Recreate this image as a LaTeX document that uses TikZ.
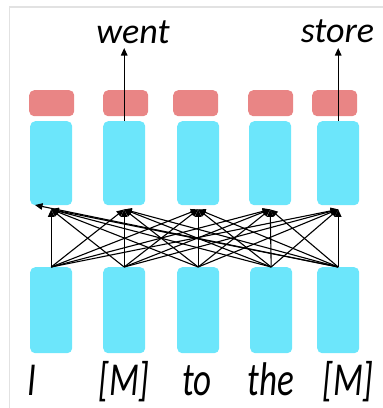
\documentclass[tikz,border=0pt]{standalone}
\usepackage{fontspec}
\setmainfont{Carlito}
\usetikzlibrary{arrows.meta}
\definecolor{cellblue}{HTML}{6CE6FB}
\definecolor{cellred}{HTML}{E98585}
\definecolor{framegray}{HTML}{E2E2E2}
\begin{document}
\begin{tikzpicture}[x=1pt,y=-1pt,
  cell/.style={fill=cellblue,rounded corners=5pt,inner sep=0pt,anchor=north west,
    minimum width=42pt},
  headcell/.style={fill=cellred,rounded corners=5pt,inner sep=0pt,anchor=north west,
    minimum width=45pt,minimum height=26pt},
  link/.style={line width=1.1pt,-{Triangle[length=7.5pt,width=6.5pt]}},
  word/.style={font=\fontsize{35}{40}\selectfont\itshape,inner sep=0pt,anchor=base},
  outword/.style={font=\fontsize{36}{42}\selectfont\itshape,inner sep=0pt,anchor=base}]
\useasboundingbox (0,0) rectangle (383,408);
% page frame
\draw[framegray,line width=1.5pt] (9.5,408) -- (9.5,7) -- (383,7);

% prediction heads
\foreach \i/\x in {1/29,2/103,3/173,4/248,5/312}
  \node[headcell] (r\i) at (\x,90) {};

% upper and lower layers
\foreach \i/\x in {1/30,2/103,3/177,4/249,5/317}
  \node[cell,minimum height=84pt] (t\i) at (\x,121) {};
\foreach \i/\x in {1/30,2/103,3/177,4/250,5/317}
  \node[cell,minimum height=86pt] (b\i) at (\x,267) {};

% attention targets just below the upper layer
\foreach \i in {1,...,5}
  \coordinate (a\i) at ([yshift=-4pt]t\i.south);
\coordinate (a0) at (35,205);

% all-to-all attention links
\foreach \s in {1,...,5}
  \foreach \d in {1,...,5}
    \draw[link] (b\s.north) -- (a\d);
\draw[link] (b5.north) -- (a0);

% outputs
\node[outword] (o2) at (133,43) {went};
\node[outword] (o5) at (337.5,42) {store};
\coordinate (h2) at (t2.north |- 0,48);
\coordinate (h5) at (t5.north |- 0,48);
\draw[link] (t2.north) -- (h2);
\draw[link] (t5.north) -- (h5);

% input tokens
\foreach \i/\x/\w in {1/32/I,2/124/{[M]},3/197/to,4/271/the,5/348/{[M]}}
  \node[word] (w\i) at (\x,395) {\scalebox{1}[1.35]{\w}};
\end{tikzpicture}
\end{document}
